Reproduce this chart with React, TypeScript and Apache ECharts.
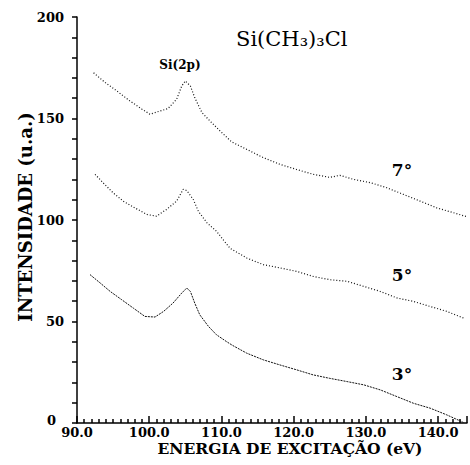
import React, { useEffect, useRef } from "react";
import * as echarts from "echarts";

// Excitation energy (eV) and intensity (a.u.)
const energy7 = [92.3, 93.9, 95.5, 97.3, 99.0, 100.1, 101.5, 102.6, 103.8, 104.5, 105.0, 105.7, 106.3, 107.3, 108.4, 109.8, 111.4, 113.5, 115.8, 118.1, 120.4, 122.7, 125.0, 126.4, 128.3, 130.6, 132.9, 135.2, 137.5, 139.8, 142.1, 144.0];
const intensity7 = [172.5, 167.7, 163.6, 158.7, 154.6, 152.1, 153.7, 154.9, 159.5, 166.0, 168.5, 166.0, 160.3, 152.9, 148.8, 143.9, 138.5, 134.8, 130.7, 127.4, 124.9, 122.5, 121.0, 122.0, 120.0, 118.4, 115.9, 112.6, 109.3, 106.0, 103.6, 101.6];

const energy5 = [92.5, 93.6, 95.0, 96.4, 98.0, 99.7, 101.0, 102.4, 103.8, 104.7, 105.2, 106.1, 106.8, 108.0, 109.3, 111.2, 113.5, 115.8, 118.1, 120.4, 122.7, 125.0, 127.4, 129.7, 132.0, 134.3, 136.6, 138.9, 141.2, 143.5];
const intensity5 = [122.5, 118.4, 113.4, 109.3, 106.0, 102.7, 101.9, 105.2, 109.3, 115.1, 114.5, 110.1, 104.3, 98.6, 94.5, 86.0, 81.3, 78.0, 76.4, 74.7, 72.2, 70.6, 69.8, 67.3, 64.8, 61.6, 59.9, 57.4, 55.0, 51.7];

const energy3 = [91.8, 93.2, 94.6, 96.2, 97.8, 99.4, 100.8, 102.0, 103.3, 104.5, 105.2, 105.7, 106.3, 107.0, 108.2, 109.3, 110.7, 111.5, 113.5, 115.8, 118.1, 120.4, 122.7, 125.0, 127.4, 129.7, 132.0, 134.3, 136.6, 138.9, 141.2, 143.5];
const intensity3 = [73.1, 69.0, 64.8, 60.7, 56.6, 52.5, 52.2, 55.0, 59.1, 64.0, 66.5, 64.8, 59.1, 53.3, 47.6, 43.5, 40.1, 38.3, 34.4, 31.1, 28.6, 26.2, 23.7, 22.0, 20.4, 18.8, 16.3, 13.0, 9.7, 7.3, 4.0, 0.3];

const seriesNames = ["7°", "5°", "3°"];
const titleText = "Si(CH₃)₃Cl";
const peakLabel = "Si(2p)";
const xName = "ENERGIA DE EXCITAÇÃO (eV)";
const yName = "INTENSIDADE (u.a.)";

const SERIF = "'DejaVu Serif', serif";
const INK = "#000";

function pairs(xs: number[], ys: number[]) {
  return xs.map((x, i) => [x, ys[i]]);
}

export default function App() {
  const ref = useRef<HTMLDivElement>(null);
  useEffect(() => {
    if (!ref.current) return;
    const chart = echarts.init(ref.current, null, { renderer: "svg" });
    const lineSeries = (name: string, data: number[][], dash: number[], width: number) => ({
      name,
      type: "line",
      data,
      showSymbol: false,
      symbol: "none",
      lineStyle: { color: "#111", width, type: dash },
    });
    chart.setOption({
      animation: false,
      backgroundColor: "#fff",
      grid: { left: 77, right: 3, top: 17, bottom: 42 },
      xAxis: {
        type: "value",
        min: 90,
        max: 144,
        interval: 10,
        axisLine: { show: true, lineStyle: { color: INK, width: 1.5 } },
        axisTick: { show: true, inside: true, length: 7, lineStyle: { color: INK, width: 1.5 } },
        minorTick: { show: true, splitNumber: 10, length: 4, lineStyle: { color: INK, width: 1.5 } },
        splitLine: { show: false },
        axisLabel: {
          margin: 3,
          showMaxLabel: false,
          color: INK,
          fontFamily: SERIF,
          fontWeight: "bold",
          fontSize: 13,
          formatter: (v: number) => v.toFixed(1),
        },
      },
      yAxis: {
        type: "value",
        min: 0,
        max: 200,
        interval: 50,
        axisLine: { show: true, lineStyle: { color: INK, width: 1.5 } },
        axisTick: { show: true, inside: false, length: 5, lineStyle: { color: INK, width: 1.5 } },
        minorTick: { show: true, splitNumber: 5, length: 5, lineStyle: { color: INK, width: 1.5 } },
        splitLine: { show: false },
        axisLabel: {
          margin: 13,
          color: INK,
          fontFamily: SERIF,
          fontWeight: "bold",
          fontSize: 13,
          formatter: (v: number) => (v === 0 ? "{z|0}" : String(v)),
          rich: {
            z: {
              fontFamily: SERIF,
              fontWeight: "bold",
              fontSize: 13,
              color: INK,
              padding: [0, 8, 5, 0],
            },
          },
        },
      },
      series: [
        lineSeries(seriesNames[0], pairs(energy7, intensity7), [1, 2], 1.2),
        lineSeries(seriesNames[1], pairs(energy5, intensity5), [1, 2], 1.2),
        lineSeries(seriesNames[2], pairs(energy3, intensity3), [2, 1], 1),
      ],
      graphic: [
        {
          type: "text",
          x: 236,
          y: 39,
          style: { text: titleText, fill: INK, font: `normal 21px ${SERIF}`, align: "left", verticalAlign: "middle" },
        },
        {
          type: "text",
          x: 180,
          y: 65,
          style: { text: peakLabel, fill: INK, font: `bold 12px ${SERIF}`, align: "center", verticalAlign: "middle" },
        },
        {
          type: "text",
          x: 402,
          y: 170,
          style: { text: seriesNames[0], fill: INK, font: `bold 17px ${SERIF}`, align: "center", verticalAlign: "middle" },
        },
        {
          type: "text",
          x: 402,
          y: 275,
          style: { text: seriesNames[1], fill: INK, font: `bold 17px ${SERIF}`, align: "center", verticalAlign: "middle" },
        },
        {
          type: "text",
          x: 402,
          y: 374,
          style: { text: seriesNames[2], fill: INK, font: `bold 17px ${SERIF}`, align: "center", verticalAlign: "middle" },
        },
        {
          type: "text",
          x: 290,
          y: 448,
          style: { text: xName, fill: INK, font: `bold 15.5px ${SERIF}`, align: "center", verticalAlign: "middle" },
        },
        {
          type: "text",
          x: 25,
          y: 217,
          rotation: Math.PI / 2,
          style: { text: yName, fill: INK, font: `bold 18px ${SERIF}`, align: "center", verticalAlign: "middle" },
        },
      ],
    });
    return () => chart.dispose();
  }, []);
  return (
    <div
      ref={ref}
      style={{ position: "fixed", left: 0, top: 0, width: 470, height: 465, background: "#fff" }}
    />
  );
}
